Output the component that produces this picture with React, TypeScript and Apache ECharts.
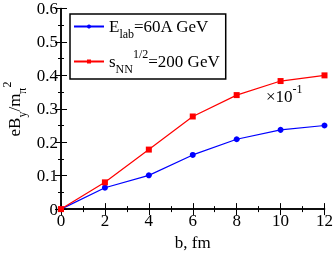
import React, { useEffect, useRef } from "react";
import * as echarts from "echarts";

const bValues = [0, 2, 4, 6, 8, 10, 12];
const elabSeries = [0, 0.064, 0.101, 0.162, 0.209, 0.237, 0.25];
const snnSeries = [0, 0.08, 0.178, 0.277, 0.341, 0.383, 0.4];
const xTicks = { min: 0, max: 12, interval: 2 };
const yTicks = { min: 0, max: 0.6, interval: 0.1 };

const FONT = "'Liberation Serif', 'Times New Roman', serif";

const rich = {
  a: { fontFamily: FONT, fontSize: 17, color: "#000", lineHeight: 17, verticalAlign: "middle" },
  sub: { fontFamily: FONT, fontSize: 12, color: "#000", lineHeight: 27, verticalAlign: "bottom" },
  sup: { fontFamily: FONT, fontSize: 12, color: "#000", lineHeight: 27, verticalAlign: "top" },
};

export default function App() {
  const ref = useRef<HTMLDivElement>(null);
  useEffect(() => {
    if (!ref.current) return;
    const chart = echarts.init(ref.current, null, { renderer: "svg" });
    const axisCommon = {
      type: "value" as const,
      axisLine: { show: true, lineStyle: { color: "#000", width: 1.5 } },
      axisTick: { show: true, inside: true, length: 6, lineStyle: { color: "#000", width: 1 } },
      minorTick: { show: true, splitNumber: 2, length: 3, lineStyle: { color: "#000", width: 1 } },
      splitLine: { show: false },
    };
    const labelStyle = { fontFamily: FONT, fontSize: 17, color: "#000", margin: 3 };
    chart.setOption({
      animation: false,
      textStyle: { fontFamily: FONT },
      grid: { left: 61, right: 10, top: 8, bottom: 38 },
      xAxis: [
        {
          ...axisCommon,
          ...xTicks,
          position: "bottom",
          name: "b, fm",
          nameLocation: "middle",
          nameGap: 19,
          nameTextStyle: { fontFamily: FONT, fontSize: 17, color: "#000" },
          axisLabel: labelStyle,
        },
        {
          ...axisCommon,
          ...xTicks,
          position: "top",
          axisLabel: { show: false },
        },
      ],
      yAxis: [
        {
          ...axisCommon,
          ...yTicks,
          position: "left",
          axisLabel: {
            ...labelStyle,
            formatter: (v: number) => (v === 0 ? "0" : v.toFixed(1)),
          },
        },
        {
          ...axisCommon,
          ...yTicks,
          position: "right",
          axisLabel: { show: false },
        },
      ],
      legend: {
        orient: "vertical",
        left: 70,
        top: 14,
        padding: [4, 6, 4, 3],
        itemGap: 8,
        itemWidth: 30,
        itemHeight: 5,
        borderColor: "#000",
        borderWidth: 1.5,
        borderRadius: 0,
        textStyle: { fontFamily: FONT, rich },
        formatter: (name: string) =>
          name === "elab"
            ? "{a|E}{sub|lab}{a|=60A GeV}"
            : "{a|s}{sub|NN}{sup|1/2}{a|=200 GeV}",
        data: ["elab", "snn"],
      },
      graphic: [
        {
          type: "text",
          x: 14,
          y: 109,
          rotation: Math.PI / 2,
          style: {
            text: "{a|eB}{sub|y}{a|/m}{sub|π}{sup|2}",
            rich,
            fontFamily: FONT,
            align: "center",
            verticalAlign: "middle",
          },
        },
        {
          type: "text",
          x: 266,
          y: 96,
          style: {
            text: "{a|×10}{sup|-1}",
            rich,
            fontFamily: FONT,
            align: "left",
            verticalAlign: "middle",
          },
        },
      ],
      series: [
        {
          name: "elab",
          type: "line",
          data: bValues.map((b, i) => [b, elabSeries[i]]),
          symbol: "circle",
          symbolSize: 6,
          lineStyle: { color: "#0000ff", width: 1.2 },
          itemStyle: { color: "#0000ff" },
        },
        {
          name: "snn",
          type: "line",
          data: bValues.map((b, i) => [b, snnSeries[i]]),
          symbol: "rect",
          symbolSize: 6,
          lineStyle: { color: "#ff0000", width: 1.2 },
          itemStyle: { color: "#ff0000" },
        },
      ],
    });
    return () => chart.dispose();
  }, []);
  return (
    <div
      ref={ref}
      style={{ position: "fixed", left: 0, top: 0, width: 336, height: 256 }}
    />
  );
}
